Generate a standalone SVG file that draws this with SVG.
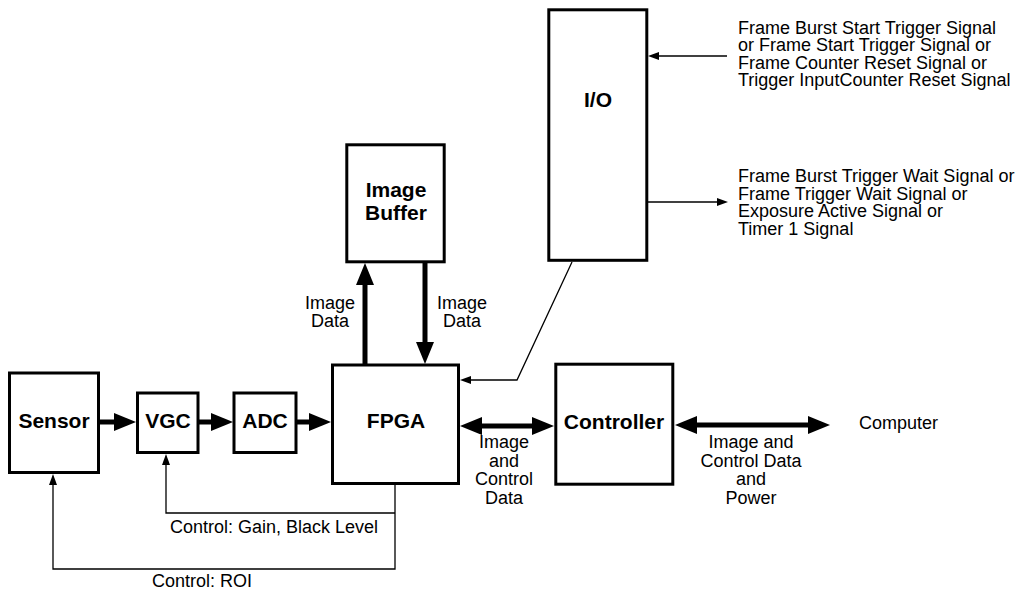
<svg xmlns="http://www.w3.org/2000/svg" width="1028" height="593" viewBox="0 0 1028 593">
<style>
.box{fill:#fff;stroke:#000;stroke-width:3}
.b{font-family:"Liberation Sans",Arial,sans-serif;font-weight:bold;font-size:21px;fill:#000;text-anchor:middle}
.t{font-family:"Liberation Sans",Arial,sans-serif;font-size:18px;fill:#000}
.c{text-anchor:middle}
.thick{fill:none;stroke:#000;stroke-width:5}
.thin{fill:none;stroke:#000;stroke-width:1.3}
</style>
<defs>
<marker id="ah" markerUnits="userSpaceOnUse" markerWidth="22" markerHeight="18" refX="0" refY="9" orient="auto-start-reverse" overflow="visible">
<path d="M0,0 L22,9 L0,18 z" fill="#000"/>
</marker>
<marker id="ta" markerUnits="userSpaceOnUse" markerWidth="11" markerHeight="8" refX="0" refY="4" orient="auto-start-reverse" overflow="visible">
<path d="M0,0 L11,4 L0,8 z" fill="#000"/>
</marker>
</defs>
<rect width="1028" height="593" fill="#fff"/>
<g id="connectors">
<path class="thick" d="M100,422 H114" marker-end="url(#ah)"/>
<path class="thick" d="M199,422 H211" marker-end="url(#ah)"/>
<path class="thick" d="M297,422 H309" marker-end="url(#ah)"/>
<path class="thick" d="M365,364 V285" marker-end="url(#ah)"/>
<path class="thick" d="M425,263 V342" marker-end="url(#ah)"/>
<path class="thick" d="M482,426 H532" marker-start="url(#ah)" marker-end="url(#ah)"/>
<path class="thick" d="M697,425 H808" marker-start="url(#ah)" marker-end="url(#ah)"/>
<path class="thin" d="M395,485 V569 H53 V485" marker-end="url(#ta)"/>
<path class="thin" d="M395,513 H166 V465" marker-end="url(#ta)"/>
<path class="thin" d="M572,262 L517,380 H471" marker-end="url(#ta)"/>
<path class="thin" d="M727,56 H659" marker-end="url(#ta)"/>
<path class="thin" d="M648,202 H717" marker-end="url(#ta)"/>
</g>
<g id="sensor"><rect class="box" x="9.5" y="373" width="89" height="99.5"/><text class="b" x="54" y="428">Sensor</text></g>
<g id="vgc"><rect class="box" x="137.5" y="393" width="60.5" height="59.5"/><text class="b" x="168" y="428">VGC</text></g>
<g id="adc"><rect class="box" x="234" y="393" width="62" height="59.5"/><text class="b" x="265" y="428">ADC</text></g>
<g id="fpga"><rect class="box" x="332.5" y="365" width="126" height="118.5"/><text class="b" x="396" y="428">FPGA</text></g>
<g id="imagebuffer"><rect class="box" x="346.8" y="144.8" width="97.4" height="117"/><text class="b" x="396" y="197">Image</text><text class="b" x="396" y="220">Buffer</text></g>
<g id="io"><rect class="box" x="548.8" y="9.8" width="98" height="250.5"/><text class="b" x="598" y="107">I/O</text></g>
<g id="controller"><rect class="box" x="555.8" y="364.2" width="117" height="120"/><text class="b" x="614" y="429">Controller</text></g>
<g id="computer"><text class="t" x="859" y="429">Computer</text></g>
<g id="labels">
<text class="t c" x="330" y="309">Image</text>
<text class="t c" x="330" y="327">Data</text>
<text class="t c" x="462" y="309">Image</text>
<text class="t c" x="462" y="327">Data</text>
<text class="t c" x="504" y="448">Image</text>
<text class="t c" x="504" y="466.5">and</text>
<text class="t c" x="504" y="485">Control</text>
<text class="t c" x="504" y="503.5">Data</text>
<text class="t c" x="751" y="448">Image and</text>
<text class="t c" x="751" y="466.5">Control Data</text>
<text class="t c" x="751" y="485">and</text>
<text class="t c" x="751" y="503.5">Power</text>
<text class="t" x="170" y="533">Control: Gain, Black Level</text>
<text class="t" x="152" y="587">Control: ROI</text>
<text class="t" x="738" y="33.5">Frame Burst Start Trigger Signal</text>
<text class="t" x="738" y="51">or Frame Start Trigger Signal or</text>
<text class="t" x="738" y="68.5">Frame Counter Reset Signal or</text>
<text class="t" x="738" y="86">Trigger InputCounter Reset Signal</text>
<text class="t" x="738" y="182">Frame Burst Trigger Wait Signal or</text>
<text class="t" x="738" y="199.5">Frame Trigger Wait Signal or</text>
<text class="t" x="738" y="217">Exposure Active Signal or</text>
<text class="t" x="738" y="234.5">Timer 1 Signal</text>
</g>
</svg>
